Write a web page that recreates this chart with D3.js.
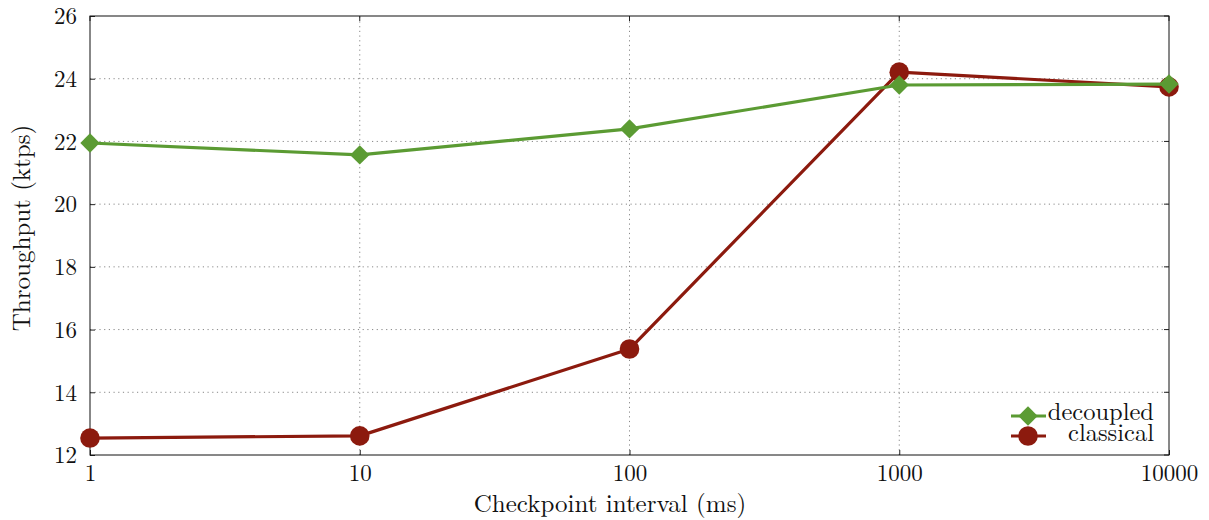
<!DOCTYPE html>
<html>
<head>
<meta charset="utf-8">
<script src="https://cdn.jsdelivr.net/npm/d3@7"></script>
<style>
  html, body { margin: 0; padding: 0; background: #fff; }
  svg { display: block; }
</style>
</head>
<body>
<svg id="chart" width="1209" height="520"></svg>
<script>
// Checkpoint intervals (ms) and measured throughput (ktps)
const intervals = [1, 10, 100, 1000, 10000];
const decoupled = [21.95, 21.57, 22.40, 23.80, 23.83];
const classical = [12.54, 12.61, 15.38, 24.21, 23.74];
const yTicks = [12, 14, 16, 18, 20, 22, 24, 26];
const xTickLabels = ["1", "10", "100", "1000", "10000"];
const seriesNames = ["decoupled", "classical"];

const green = "#5b9b33";
const red = "#8c1a0e";
const FONT = "Latin Modern Roman, Liberation Serif, serif";
const TICK_FS = 23;
const LABEL_FS = 25;
const LEGEND_FS = 24.5;

const svg = d3.select("#chart");
const margin = { left: 90, right: 40, top: 16, bottom: 65 };
const W = 1209, H = 520;
const x = d3.scaleLog().domain([1, 10000]).range([margin.left, W - margin.right]);
const y = d3.scaleLinear().domain([12, 26]).range([H - margin.bottom, margin.top]);

const g = svg.append("g");

// grid
g.append("g").selectAll("line").data(intervals.slice(1, -1)).join("line")
  .attr("x1", d => x(d)).attr("x2", d => x(d))
  .attr("y1", y(12)).attr("y2", y(26))
  .attr("stroke", "#888").attr("stroke-width", 1).attr("stroke-dasharray", "1.2,3.5");
g.append("g").selectAll("line").data(yTicks.slice(1, -1)).join("line")
  .attr("x1", x(1)).attr("x2", x(10000))
  .attr("y1", d => y(d)).attr("y2", d => y(d))
  .attr("stroke", "#888").attr("stroke-width", 1).attr("stroke-dasharray", "1.2,3.5");

// axes
const xAxis = d3.axisBottom(x).tickValues(intervals).tickFormat((d, i) => xTickLabels[i])
  .tickSizeInner(-5).tickSizeOuter(0).tickPadding(10);
const yAxis = d3.axisLeft(y).tickValues(yTicks).tickFormat(d3.format("d"))
  .tickSizeInner(-5).tickSizeOuter(0).tickPadding(13);

const gx = g.append("g").attr("transform", `translate(0,${y(12)})`).call(xAxis);
const gy = g.append("g").attr("transform", `translate(${x(1)},0)`).call(yAxis);
[gx, gy].forEach(a => {
  a.attr("font-family", FONT).attr("font-size", TICK_FS);
  a.select(".domain").remove();
  a.selectAll(".tick line").attr("stroke", "#222");
  a.selectAll(".tick text").attr("fill", "#111");
});
gx.selectAll(".tick text").attr("dy", "0.68em");
gy.selectAll(".tick text").attr("dy", "0.34em");

// mirrored ticks on top and right
g.append("g").selectAll("line").data(intervals).join("line")
  .attr("x1", d => x(d)).attr("x2", d => x(d))
  .attr("y1", y(26)).attr("y2", y(26) + 5).attr("stroke", "#222");
g.append("g").selectAll("line").data(yTicks).join("line")
  .attr("x1", x(10000)).attr("x2", x(10000) - 5)
  .attr("y1", d => y(d)).attr("y2", d => y(d)).attr("stroke", "#222");

// frame
g.append("rect")
  .attr("x", x(1)).attr("y", y(26))
  .attr("width", x(10000) - x(1)).attr("height", y(12) - y(26))
  .attr("fill", "none").attr("stroke", "#111").attr("stroke-width", 1);

// axis titles
svg.append("text").attr("x", 610).attr("y", 512)
  .attr("text-anchor", "middle").attr("font-size", LABEL_FS).attr("fill", "#111")
  .attr("font-family", FONT).text("Checkpoint interval (ms)");
svg.append("text").attr("transform", `translate(30,228) rotate(-90)`)
  .attr("text-anchor", "middle").attr("font-size", LABEL_FS).attr("fill", "#111")
  .attr("font-family", FONT).text("Throughput (ktps)");

// series
const line = d3.line().x((d, i) => x(intervals[i])).y(d => y(d));
const diamond = d3.symbol().type(d3.symbolDiamond2).size(240);
const R = 9.8;

function drawSeries(vals, color, marker) {
  const s = g.append("g");
  s.append("path").datum(vals).attr("d", line)
    .attr("fill", "none").attr("stroke", color).attr("stroke-width", 3.2)
    .attr("stroke-linejoin", "round");
  if (marker === "circle") {
    s.selectAll("circle").data(vals).join("circle")
      .attr("cx", (d, i) => x(intervals[i])).attr("cy", d => y(d))
      .attr("r", R).attr("fill", color);
  } else {
    s.selectAll("path.m").data(vals).join("path").attr("class", "m")
      .attr("transform", (d, i) => `translate(${x(intervals[i])},${y(d)})`)
      .attr("d", diamond).attr("fill", color);
  }
}
drawSeries(classical, red, "circle");
drawSeries(decoupled, green, "diamond");

// legend
const legend = svg.append("g");
const items = [
  { name: seriesNames[0], color: green, marker: "diamond", yy: 416, base: 420 },
  { name: seriesNames[1], color: red, marker: "circle", yy: 436, base: 441 }
];
items.forEach(it => {
  legend.append("line").attr("x1", 1011).attr("x2", 1046)
    .attr("y1", it.yy).attr("y2", it.yy).attr("stroke", it.color).attr("stroke-width", 3.2);
  if (it.marker === "circle") {
    legend.append("circle").attr("cx", 1028).attr("cy", it.yy).attr("r", R).attr("fill", it.color);
  } else {
    legend.append("path").attr("transform", `translate(1028,${it.yy})`)
      .attr("d", diamond).attr("fill", it.color);
  }
  legend.append("text").attr("x", 1154).attr("y", it.base).attr("text-anchor", "end")
    .attr("font-size", LEGEND_FS).attr("fill", "#111").attr("font-family", FONT).text(it.name);
});
</script>
</body>
</html>
